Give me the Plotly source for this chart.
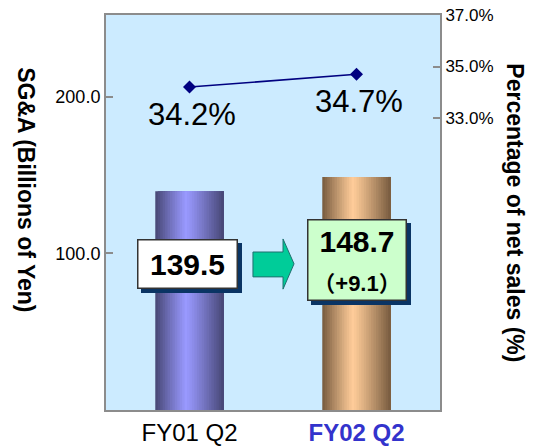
import plotly.graph_objects as go

# data
quarters = ["FY01 Q2", "FY02 Q2"]
sga = [139.5, 148.7]            # billions of yen
pct_sales = [34.2, 34.7]        # % of net sales
change_label = "（+9.1）"
tick_left = [100, 200]
tick_right = [33, 35, 37]

FONT = "Arial, Liberation Sans, Noto Sans CJK JP, sans-serif"
BAR_W = 0.41
N_SLICES = 28
DARK = [(70, 70, 115), (118, 90, 62)]
LIGHT = [(153, 153, 255), (255, 204, 153)]


def shade(dark, light, t):
    # cylinder look: dark edges, highlight a bit left of centre
    d = abs(t - 0.45) / (0.45 if t < 0.45 else 0.55)
    f = 1 - d ** 1.1
    c = [round(a + (b - a) * f) for a, b in zip(dark, light)]
    return "rgb(%d,%d,%d)" % tuple(c)


fig = go.Figure()

# bars built from overlapping slices so they look like cylinders
step = BAR_W / N_SLICES
for i in range(N_SLICES):
    t = (i + 0.5) / N_SLICES
    fig.add_trace(go.Bar(
        x=quarters, y=sga,
        offset=-BAR_W / 2 + i * step,
        width=BAR_W - i * step,
        marker=dict(color=[shade(DARK[k], LIGHT[k], t) for k in range(2)],
                    line=dict(width=0)),
        showlegend=False, hoverinfo="skip",
    ))

fig.add_trace(go.Scatter(
    x=quarters, y=pct_sales, yaxis="y2",
    mode="lines+markers",
    line=dict(color="#000080", width=1.5),
    marker=dict(symbol="diamond", size=10, color="#000080"),
    showlegend=False,
))

annotations = []
for q, p in zip(quarters, pct_sales):
    annotations.append(dict(
        x=q, y=p, yref="y2", text="%.1f%%" % p, showarrow=False,
        yshift=-27, xshift=2, font=dict(size=31, color="black", family=FONT),
    ))


def box(x, y, text, bg, w, h, xshift=0):
    # shadow first (empty box), then the box itself
    annotations.append(dict(
        x=x, y=y, text="&nbsp;", showarrow=False, width=w, height=h,
        xshift=xshift + 4, yshift=-4, bgcolor="#0A3464",
        bordercolor="#0A3464", borderwidth=1.5, borderpad=0,
    ))
    annotations.append(dict(
        x=x, y=y, text=text, showarrow=False, width=w, height=h,
        xshift=xshift, bgcolor=bg, bordercolor="#333333",
        borderwidth=1.5, borderpad=0,
        font=dict(size=30, color="black", family=FONT),
    ))


box(quarters[0], 93, "<b>%.1f</b>" % sga[0], "white", 98, 47, xshift=-2)
box(quarters[1], 95.5,
    "<b>%.1f</b><br><b><span style='font-size:22px'>%s</span></b>"
    % (sga[1], change_label),
    "#CCFFCC", 97, 79)

annotations += [
    dict(x=-0.285, y=0.557, xref="paper", yref="paper", showarrow=False,
         text="<b>SG&A (Billions of Yen)</b>", textangle=90,
         font=dict(size=23, color="black", family=FONT)),
    dict(x=1.27, y=0.50, xref="paper", yref="paper", showarrow=False,
         text="<b>Percentage of net sales (%)</b>", textangle=90,
         font=dict(size=23, color="black", family=FONT)),
]

# arrow between the two boxes
arrow = "M 0.440 0.400 L 0.530 0.400 L 0.530 0.433 L 0.563 0.370 " \
        "L 0.530 0.306 L 0.530 0.337 L 0.440 0.337 Z"

# page body adds an 8px margin, so the figure is 8px smaller
fig.update_layout(
    width=527, height=438,
    margin=dict(l=98, r=95, t=7, b=36),
    paper_bgcolor="white",
    plot_bgcolor="#CCEBFF",
    barmode="overlay",
    font=dict(family=FONT, color="black"),
    xaxis=dict(
        type="category", range=[-0.5, 1.5],
        tickvals=quarters,
        ticktext=[quarters[0],
                  "<b><span style='color:#3333CC'>%s</span></b>" % quarters[1]],
        tickfont=dict(size=24), automargin=False,
        showline=True, mirror=True, linecolor="#8C8C8C", linewidth=2,
        ticks="", showgrid=False,
    ),
    yaxis=dict(
        range=[0, 252], tickvals=tick_left,
        ticktext=["%.1f" % v for v in tick_left],
        tickfont=dict(size=18), automargin=False,
        showline=True, linecolor="#8C8C8C", linewidth=2,
        ticks="inside", ticklen=7, tickcolor="#8C8C8C", tickwidth=2,
        showgrid=False, zeroline=False,
    ),
    yaxis2=dict(
        overlaying="y", side="right",
        range=[21.66, 37], tickvals=tick_right,
        ticktext=["%.1f%%" % v for v in tick_right],
        tickfont=dict(size=17), automargin=False,
        ticklabeloverflow="allow",
        showline=True, linecolor="#8C8C8C", linewidth=2,
        ticks="inside", ticklen=7, tickcolor="#8C8C8C", tickwidth=2,
        showgrid=False, zeroline=False,
    ),
    annotations=annotations,
    shapes=[dict(type="path", xref="paper", yref="paper", path=arrow,
                 fillcolor="#00CC99", line=dict(color="#1F6F6F", width=1))],
)

fig.write_html("out.html")
